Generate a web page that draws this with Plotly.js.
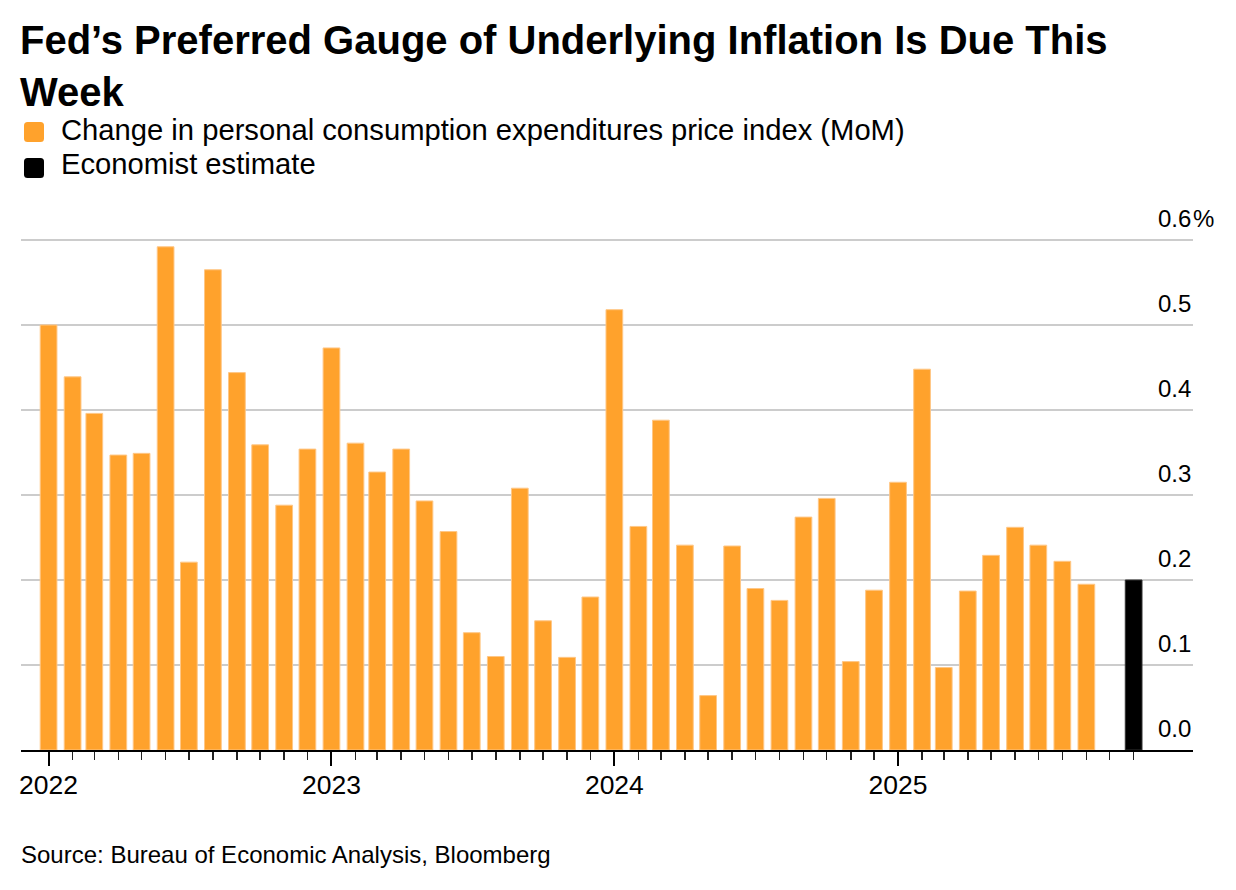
<!DOCTYPE html>
<html>
<head>
<meta charset="utf-8">
<script src="https://cdn.plot.ly/plotly-3.0.1.min.js"></script>
<style>
  html, body { margin: 0; padding: 0; background: #ffffff; }
  #chart { width: 1236px; height: 890px; }
</style>
</head>
<body>
<div id="chart"></div>
<script>
// ---------- data ----------
const pceMonths = [
  '2022-01-01','2022-02-01','2022-03-01','2022-04-01','2022-05-01','2022-06-01',
  '2022-07-01','2022-08-01','2022-09-01','2022-10-01','2022-11-01','2022-12-01',
  '2023-01-01','2023-02-01','2023-03-01','2023-04-01','2023-05-01','2023-06-01',
  '2023-07-01','2023-08-01','2023-09-01','2023-10-01','2023-11-01','2023-12-01',
  '2024-01-01','2024-02-01','2024-03-01','2024-04-01','2024-05-01','2024-06-01',
  '2024-07-01','2024-08-01','2024-09-01','2024-10-01','2024-11-01','2024-12-01',
  '2025-01-01','2025-02-01','2025-03-01','2025-04-01','2025-05-01','2025-06-01',
  '2025-07-01','2025-08-01','2025-09-01'
];
const pceValues = [
  0.500, 0.439, 0.396, 0.347, 0.349, 0.592, 0.221, 0.565, 0.444, 0.359, 0.288, 0.354,
  0.473, 0.361, 0.327, 0.354, 0.293, 0.257, 0.138, 0.110, 0.308, 0.152, 0.109, 0.180,
  0.518, 0.263, 0.388, 0.241, 0.064, 0.240, 0.190, 0.176, 0.274, 0.296, 0.104, 0.188,
  0.315, 0.448, 0.097, 0.187, 0.229, 0.262, 0.241, 0.222, 0.195
];
const estimateMonths = ['2025-11-01'];
const estimateValues = [0.2];

const monthTicks = pceMonths.concat(['2025-10-01', '2025-11-01']);
const yearTickVals = ['2022-01-01', '2023-01-01', '2024-01-01', '2025-01-01'];
const yearTickText = ['2022', '2023', '2024', '2025'];
const yTickVals = [0, 0.1, 0.2, 0.3, 0.4, 0.5, 0.6];
const yTickText = ['0.0', '0.1', '0.2', '0.3', '0.4', '0.5', '0.6'];

const seriesNames = ['Change in personal consumption expenditures price index (MoM)', 'Economist estimate'];
const titleText = 'Fed\u2019s Preferred Gauge of Underlying Inflation Is Due This<br>Week';
const sourceText = 'Source: Bureau of Economic Analysis, Bloomberg';

// ---------- style ----------
const ORANGE = '#ffa22c';
const FONT = 'Liberation Sans, Arial, Helvetica, sans-serif';
const DAY = 86400000;
const barWidth = 21.6 * DAY;

const W = 1236, H = 890;
const M = { l: 21, r: 43, t: 230, b: 140 };
const plotW = W - M.l - M.r, plotH = H - M.t - M.b;
const px = x => (x - M.l) / plotW;            // page x pixel -> paper
const py = y => (H - M.b - y) / plotH;        // page y pixel -> paper
const yTop = 0.6 * plotH / (plotH - 10);      // 0.6 gridline sits 10px below the plot top

const traces = [
  {
    type: 'bar', x: pceMonths, y: pceValues, name: seriesNames[0],
    width: barWidth,
    marker: { color: ORANGE, line: { color: '#ffc786', width: 1 } },
    hoverinfo: 'x+y'
  },
  {
    type: 'bar', x: estimateMonths, y: estimateValues, name: seriesNames[1],
    width: barWidth,
    marker: { color: '#000000', line: { color: '#333333', width: 1 } },
    hoverinfo: 'x+y'
  }
];

const annotations = [];
yTickVals.forEach((v, i) => {
  annotations.push({
    xref: 'paper', yref: 'y', x: 1, y: v, xanchor: 'right', yanchor: 'bottom',
    xshift: -1, yshift: 7, borderpad: 0, showarrow: false, text: yTickText[i],
    font: { family: FONT, size: 24, color: '#000' }
  });
});
annotations.push({
  xref: 'paper', yref: 'y', x: 1, y: yTickVals[yTickVals.length - 1], xanchor: 'left', yanchor: 'bottom',
  xshift: -1, yshift: 7, borderpad: 0, showarrow: false, text: '%',
  font: { family: FONT, size: 24, color: '#000' }
});
// legend texts
annotations.push({
  xref: 'paper', yref: 'paper', x: px(60), y: py(130), xanchor: 'left', yanchor: 'middle',
  borderpad: 0, showarrow: false, text: seriesNames[0], font: { family: FONT, size: 29.2, color: '#000' }
});
annotations.push({
  xref: 'paper', yref: 'paper', x: px(60), y: py(164), xanchor: 'left', yanchor: 'middle',
  borderpad: 0, showarrow: false, text: seriesNames[1], font: { family: FONT, size: 29.2, color: '#000' }
});
// source
annotations.push({
  xref: 'paper', yref: 'paper', x: px(19.5), y: py(854), xanchor: 'left', yanchor: 'middle',
  borderpad: 0, showarrow: false, text: sourceText, font: { family: FONT, size: 24, color: '#000' }
});

function roundedSquare(x0, y0, s, r) {
  // pixel offsets relative to paper anchor (0,1) = top-left of plot area; y up is positive
  const X0 = x0 - M.l, X1 = X0 + s;
  const Y0 = M.t - y0, Y1 = Y0 - s;
  return `M ${X0 + r},${Y0} L ${X1 - r},${Y0} Q ${X1},${Y0} ${X1},${Y0 - r} L ${X1},${Y1 + r} Q ${X1},${Y1} ${X1 - r},${Y1} L ${X0 + r},${Y1} Q ${X0},${Y1} ${X0},${Y1 + r} L ${X0},${Y0 - r} Q ${X0},${Y0} ${X0 + r},${Y0} Z`;
}
const shapes = [
  { type: 'path', xref: 'paper', yref: 'paper', xsizemode: 'pixel', ysizemode: 'pixel', xanchor: 0, yanchor: 1,
    path: roundedSquare(24, 122, 20, 3.5), fillcolor: ORANGE, line: { width: 0 } },
  { type: 'path', xref: 'paper', yref: 'paper', xsizemode: 'pixel', ysizemode: 'pixel', xanchor: 0, yanchor: 1,
    path: roundedSquare(24, 158, 20, 3.5), fillcolor: '#000000', line: { width: 0 } }
];

const layout = {
  width: W, height: H,
  margin: M,
  paper_bgcolor: '#ffffff', plot_bgcolor: '#ffffff',
  showlegend: false,
  font: { family: FONT, color: '#000' },
  title: {
    text: titleText,
    xref: 'container', yref: 'container',
    x: 20 / W, xanchor: 'left',
    y: 1 - 54 / H, yanchor: 'top',
    font: { family: FONT, size: 40, color: '#000', weight: 700 }
  },
  xaxis: {
    type: 'date',
    range: ['2021-11-26 10:00', '2026-01-16 14:00'],
    showgrid: false, zeroline: false,
    showline: true, linecolor: '#000', linewidth: 2,
    tickmode: 'array', tickvals: yearTickVals, ticktext: yearTickText,
    ticks: 'outside', ticklen: 14, tickwidth: 2, tickcolor: '#000',
    ticklabelstandoff: -4,
    tickfont: { family: FONT, size: 26.5, color: '#000' },
    minor: { tickmode: 'array', tickvals: monthTicks, ticks: 'outside', ticklen: 8, tickwidth: 1.5, tickcolor: '#222', showgrid: false },
    fixedrange: true
  },
  yaxis: {
    range: [0, yTop],
    side: 'right',
    showgrid: true, gridcolor: '#cccccc', gridwidth: 1.4,
    tickmode: 'array', tickvals: yTickVals,
    showticklabels: false, ticks: '',
    zeroline: false, showline: false,
    fixedrange: true
  },
  bargap: 0,
  annotations: annotations,
  shapes: shapes
};

Plotly.newPlot('chart', traces, layout, { displayModeBar: false, staticPlot: true });
</script>
</body>
</html>
